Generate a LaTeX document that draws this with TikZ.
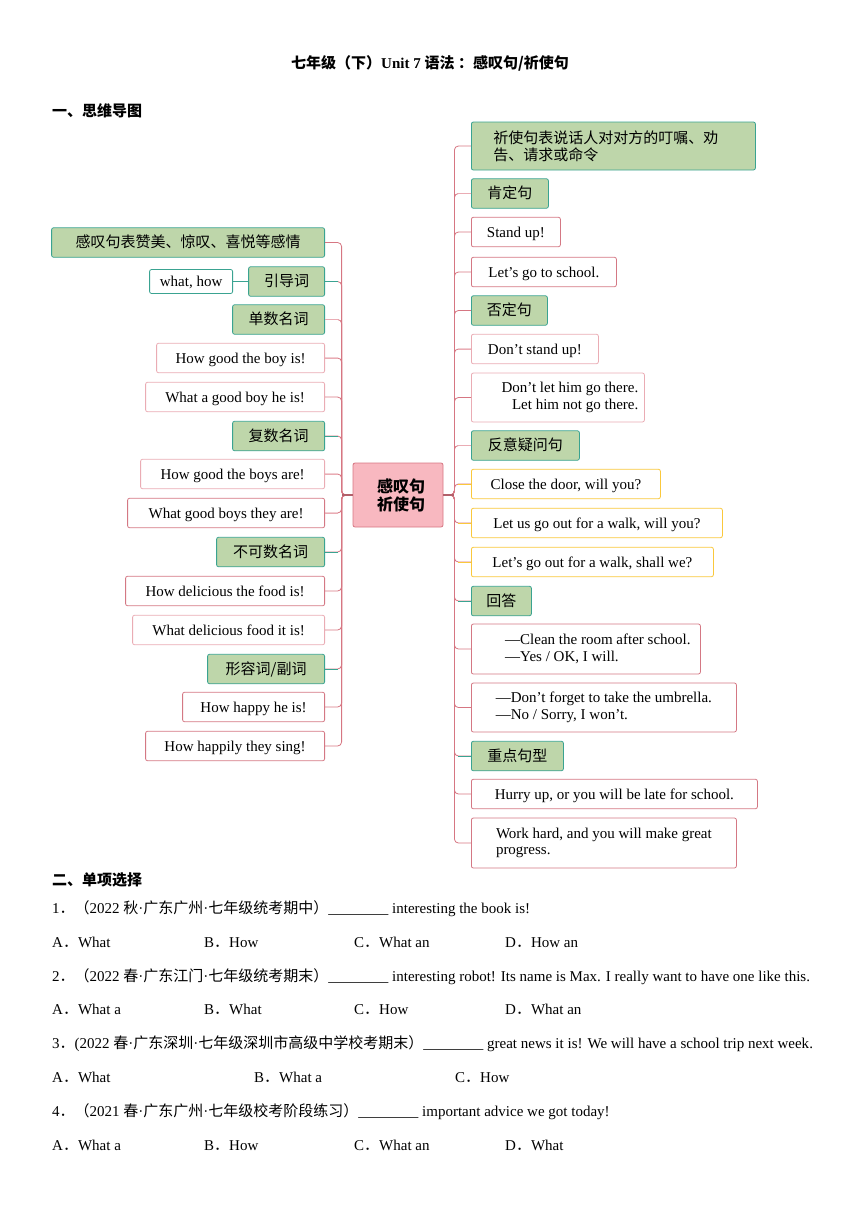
\documentclass[tikz,border=0pt]{standalone}
\usepackage{fontspec}
\setmainfont{Liberation Serif}
\newfontfamily\cjk{Noto Sans CJK SC}
\newcommand{\zh}[1]{{\cjk #1}}
\definecolor{mmgreen}{RGB}{190,214,170}
\definecolor{mmteal}{RGB}{58,163,145}
\definecolor{mmpink}{RGB}{212,120,132}
\definecolor{mmlight}{RGB}{234,172,180}
\definecolor{mmyellow}{RGB}{250,200,60}
\definecolor{mmtrunk}{RGB}{214,118,130}
\definecolor{mmhub}{RGB}{178,96,106}
\definecolor{mmcenter}{RGB}{248,184,192}

\begin{document}
\begin{tikzpicture}[x=1pt,y=-1pt,
    box/.style={draw, rounded corners=2pt, line width=0.8pt, inner sep=0pt, minimum height=29.5pt, text height=11pt, text depth=1pt, font=\fontsize{15}{16.5}\selectfont},
    gbox/.style={box, draw=mmteal, fill=mmgreen, font=\cjk\fontsize{15}{17}\selectfont},
    pbox/.style={box, draw=mmpink, fill=white},
    lbox/.style={box, draw=mmlight, fill=white},
    ybox/.style={box, draw=mmyellow, fill=white},
    twoline/.style={text height=, text depth=},
    link/.style={draw=mmtrunk, line width=0.8pt, rounded corners=4pt},
    tlink/.style={draw=mmteal, line width=0.8pt},
    llink/.style={draw=mmlight, line width=0.8pt},
    ylink/.style={draw=mmyellow, line width=0.8pt},
    txt/.style={anchor=base west, inner sep=0pt, font=\fontsize{15}{17}\selectfont}]
    \useasboundingbox (0,0) rectangle (860,1216);
    \node[font=\bfseries\fontsize{15}{18}\selectfont] (title) at (430,63) {\zh{七年级（下）}Unit 7 \zh{语法 ：感叹句/祈使句}};
    \node[txt, font=\cjk\bfseries\fontsize{15}{18}\selectfont] (head1) at (52,116) {一、思维导图};
    % center
    \node[draw=mmtrunk, fill=mmcenter, rounded corners=2pt, line width=0.8pt, minimum width=90pt, minimum height=64pt, inner sep=0pt, align=center, font=\cjk\bfseries\fontsize{16}{18}\selectfont] (c) at (398,495) {\hspace*{6pt}感叹句\\\hspace*{6pt}祈使句};
    % left branch
    \node[gbox, anchor=east, minimum width=273pt] (l1) at (325,242.5) {感叹句表赞美、惊叹、喜悦等感情};
    \node[gbox, anchor=east, minimum width=76pt] (l2) at (325,281.5) {引导词};
    \node[box, draw=mmteal, fill=white, anchor=east, minimum width=83pt, minimum height=24pt] (wh) at (233,281.5) {what, how};
    \node[gbox, anchor=east, minimum width=92pt] (l3) at (325,319.5) {单数名词};
    \node[lbox, anchor=east, minimum width=168pt] (l4) at (325,358) {How good the boy is!};
    \node[lbox, anchor=east, minimum width=179pt] (l5) at (325,397) {What a good boy he is!};
    \node[gbox, anchor=east, minimum width=92pt] (l6) at (325,436) {复数名词};
    \node[lbox, anchor=east, minimum width=184pt] (l7) at (325,474) {How good the boys are!};
    \node[pbox, anchor=east, minimum width=197pt] (l8) at (325,513) {What good boys they are!};
    \node[gbox, anchor=east, minimum width=108pt] (l9) at (325,552) {不可数名词};
    \node[pbox, anchor=east, minimum width=199pt] (l10) at (325,591) {How delicious the food is!};
    \node[lbox, anchor=east, minimum width=192pt] (l11) at (325,630) {What delicious food it is!};
    \node[gbox, anchor=east, minimum width=117pt] (l12) at (325,669) {形容词/副词};
    \node[pbox, anchor=east, minimum width=142pt] (l13) at (325,707) {How happy he is!};
    \node[pbox, anchor=east, minimum width=179pt] (l14) at (325,746) {How happily they sing!};
    % right branch
    \node[gbox, twoline, anchor=west, minimum width=284pt, minimum height=48pt, text width=240pt, align=left] (r1) at (471,146) {祈使句表说话人对对方的叮嘱、劝\\告、请求或命令};
    \node[gbox, anchor=west, minimum width=77pt] (r2) at (471,193.5) {肯定句};
    \node[pbox, anchor=west, minimum width=89pt] (r3) at (471,232) {Stand up!};
    \node[pbox, anchor=west, minimum width=145pt] (r4) at (471,272) {Let's go to school.};
    \node[gbox, anchor=west, minimum width=76pt] (r5) at (471,310.5) {否定句};
    \node[lbox, anchor=west, minimum width=127pt] (r6) at (471,349) {Don't stand up!};
    \node[lbox, twoline, anchor=west, minimum width=173pt, minimum height=49pt, align=right] (r7) at (471,397.5) {\hspace*{24pt}Don't let him go there.\\Let him not go there.};
    \node[gbox, anchor=west, minimum width=108pt] (r8) at (471,445.5) {反意疑问句};
    \node[ybox, anchor=west, minimum width=189pt] (r9) at (471,484) {Close the door, will you?};
    \node[ybox, anchor=west, minimum width=251pt] (r10) at (471,523) {Let us go out for a walk, will you?};
    \node[ybox, anchor=west, minimum width=242pt] (r11) at (471,562) {Let's go out for a walk, shall we?};
    \node[gbox, anchor=west, minimum width=60pt] (r12) at (471,601) {回答};
    \node[pbox, twoline, anchor=west, minimum width=229pt, minimum height=50pt, align=left] (r13) at (471,649) {\hspace*{24pt}—Clean the room after school.\\\hspace*{24pt}—Yes / OK, I will.};
    \node[pbox, twoline, anchor=west, minimum width=265pt, minimum height=49pt, align=left] (r14) at (471,707.5) {—Don't forget to take the umbrella.\\—No / Sorry, I won't.};
    \node[gbox, anchor=west, minimum width=92pt] (r15) at (471,756) {重点句型};
    \node[pbox, anchor=west, minimum width=286pt] (r16) at (471,794) {Hurry up, or you will be late for school.};
    \node[pbox, twoline, anchor=west, minimum width=265pt, minimum height=50pt, align=left] (r17) at (471,843) {Work hard, and you will make great\\progress.};
    % connectors
    \draw[link] (c.west) -- ++(-11,0) |- (l1.east); \draw[link] (c.west) -- ++(-11,0) |- (l2.east);
    \draw[link] (c.west) -- ++(-11,0) |- (l3.east); \draw[link] (c.west) -- ++(-11,0) |- (l4.east);
    \draw[link] (c.west) -- ++(-11,0) |- (l5.east); \draw[link] (c.west) -- ++(-11,0) |- (l6.east);
    \draw[link] (c.west) -- ++(-11,0) |- (l7.east); \draw[link] (c.west) -- ++(-11,0) |- (l8.east);
    \draw[link] (c.west) -- ++(-11,0) |- (l9.east); \draw[link] (c.west) -- ++(-11,0) |- (l10.east);
    \draw[link] (c.west) -- ++(-11,0) |- (l11.east); \draw[link] (c.west) -- ++(-11,0) |- (l12.east);
    \draw[link] (c.west) -- ++(-11,0) |- (l13.east); \draw[link] (c.west) -- ++(-11,0) |- (l14.east);
    \draw[link] (c.east) -- ++(11,0) |- (r1.west); \draw[link] (c.east) -- ++(11,0) |- (r2.west);
    \draw[link] (c.east) -- ++(11,0) |- (r3.west); \draw[link] (c.east) -- ++(11,0) |- (r4.west);
    \draw[link] (c.east) -- ++(11,0) |- (r5.west); \draw[link] (c.east) -- ++(11,0) |- (r6.west);
    \draw[link] (c.east) -- ++(11,0) |- (r7.west); \draw[link] (c.east) -- ++(11,0) |- (r8.west);
    \draw[link] (c.east) -- ++(11,0) |- (r9.west); \draw[link] (c.east) -- ++(11,0) |- (r10.west);
    \draw[link] (c.east) -- ++(11,0) |- (r11.west); \draw[link] (c.east) -- ++(11,0) |- (r12.west);
    \draw[link] (c.east) -- ++(11,0) |- (r13.west); \draw[link] (c.east) -- ++(11,0) |- (r14.west);
    \draw[link] (c.east) -- ++(11,0) |- (r15.west); \draw[link] (c.east) -- ++(11,0) |- (r16.west);
    \draw[link] (c.east) -- ++(11,0) |- (r17.west);
    \draw[tlink] (l2.east) -- ++(13,0); \draw[tlink] (l6.east) -- ++(13,0);
    \draw[tlink] (l9.east) -- ++(13,0); \draw[tlink] (l12.east) -- ++(13,0);
    \draw[llink] (l3.east) -- ++(13,0); \draw[llink] (l4.east) -- ++(13,0);
    \draw[llink] (l7.east) -- ++(13,0); \draw[llink] (l8.east) -- ++(13,0);
    \draw[llink] (r2.west) -- ++(-13,0); \draw[llink] (r6.west) -- ++(-13,0); \draw[llink] (r8.west) -- ++(-13,0);
    \draw[ylink] (r9.west) -- ++(-13,0); \draw[ylink] (r10.west) -- ++(-13,0); \draw[ylink] (r11.west) -- ++(-13,0);
    \draw[tlink] (r12.west) -- ++(-13,0); \draw[tlink] (r15.west) -- ++(-13,0);
    \draw[tlink] (wh) -- (l2);
    \draw[draw=mmhub, line width=1.6pt] (c.west) -- ++(-11,0); \draw[draw=mmhub, line width=1.6pt] (c.east) -- ++(11,0);
    % questions
    \node[txt, font=\cjk\bfseries\fontsize{15}{18}\selectfont] (head2) at (52,885) {二、单项选择};
    \node[txt] (q1) at (52,913) {1\zh{．（}2022 \zh{秋}·\zh{广东广州}·\zh{七年级统考期中）}\_\_\_\_\_\_\_\_ interesting the book is!};
    \node[txt] (q1a) at (52,947) {A\zh{．}What}; \node[txt] (q1b) at (204,947) {B\zh{．}How};
    \node[txt] (q1c) at (354,947) {C\zh{．}What an}; \node[txt] (q1d) at (505,947) {D\zh{．}How an};
    \node[txt] (q2) at (52,981) {2\zh{．（}2022 \zh{春}·\zh{广东江门}·\zh{七年级统考期末）}\_\_\_\_\_\_\_\_ interesting robot! Its name is Max. I really want to have one like this.};
    \node[txt] (q2a) at (52,1014) {A\zh{．}What a}; \node[txt] (q2b) at (204,1014) {B\zh{．}What};
    \node[txt] (q2c) at (354,1014) {C\zh{．}How}; \node[txt] (q2d) at (505,1014) {D\zh{．}What an};
    \node[txt] (q3) at (52,1048) {3\zh{．}(2022 \zh{春}·\zh{广东深圳}·\zh{七年级深圳市高级中学校考期末）}\_\_\_\_\_\_\_\_ great news it is! We will have a school trip next week.};
    \node[txt] (q3a) at (52,1082) {A\zh{．}What}; \node[txt] (q3b) at (254,1082) {B\zh{．}What a};
    \node[txt] (q3c) at (455,1082) {C\zh{．}How};
    \node[txt] (q4) at (52,1116) {4\zh{．（}2021 \zh{春}·\zh{广东广州}·\zh{七年级校考阶段练习）}\_\_\_\_\_\_\_\_ important advice we got today!};
    \node[txt] (q4a) at (52,1150) {A\zh{．}What a}; \node[txt] (q4b) at (204,1150) {B\zh{．}How};
    \node[txt] (q4c) at (354,1150) {C\zh{．}What an}; \node[txt] (q4d) at (505,1150) {D\zh{．}What};
\end{tikzpicture}
\end{document}
